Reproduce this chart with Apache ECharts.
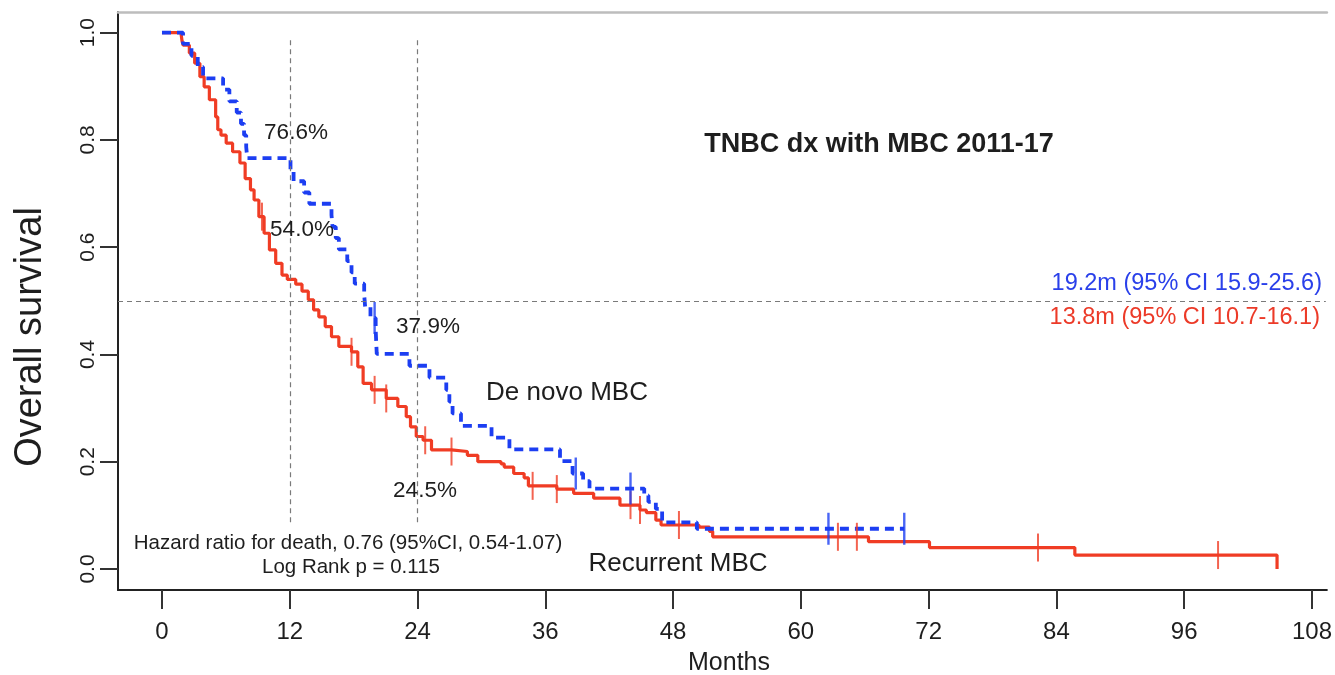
<!DOCTYPE html>
<html>
<head>
<meta charset="utf-8">
<script src="https://cdn.jsdelivr.net/npm/echarts@6/dist/echarts.min.js"></script>
<style>
html,body{margin:0;padding:0;background:#fff;}
#c{width:1335px;height:675px;}
</style>
</head>
<body>
<div id="c"></div>
<script>
// ---- Data ----
const xTicks = [0, 12, 24, 36, 48, 60, 72, 84, 96, 108];
const yTicks = [0, 0.2, 0.4, 0.6, 0.8, 1.0];

// Recurrent MBC (red, solid) Kaplan-Meier steps: survival becomes redSurv[i] at redTimes[i]
const redTimes = [0,1.78,1.88,1.98,2.57,3.07,3.56,3.96,4.45,5.04,5.24,5.54,6.03,6.63,7.32,7.81,8.31,8.65,9.10,9.59,10.09,10.68,11.27,11.77,12.56,13.15,13.74,14.24,14.73,15.33,15.92,16.61,17.80,18.39,18.89,19.68,21.06,22.15,22.94,23.34,23.88,24.52,25.31,27.19,28.68,29.66,31.84,32.14,33.03,34.01,34.41,37.08,38.66,40.54,43.01,44.89,45.49,46.38,46.87,50.43,51.42,51.72,66.35,72.08,85.73,104.72];
const redSurv  = [1.0,1.0,0.985,0.977,0.962,0.943,0.918,0.899,0.875,0.843,0.819,0.809,0.794,0.778,0.757,0.728,0.707,0.688,0.657,0.626,0.595,0.570,0.548,0.540,0.531,0.518,0.502,0.483,0.470,0.452,0.433,0.415,0.405,0.377,0.346,0.334,0.318,0.303,0.284,0.265,0.247,0.240,0.222,0.219,0.212,0.200,0.196,0.190,0.178,0.170,0.155,0.149,0.141,0.132,0.119,0.110,0.105,0.091,0.082,0.078,0.070,0.060,0.051,0.040,0.026,0.0];
const redCensorTimes = [9.39,17.80,19.97,21.06,24.72,27.19,34.81,37.08,44.0,44.89,48.55,63.48,65.26,82.27,99.18];
const redCensorSurv  = [0.657,0.405,0.334,0.318,0.240,0.219,0.155,0.149,0.119,0.110,0.082,0.060,0.060,0.040,0.026];

// De novo MBC (blue, dashed)
const blueTimes = [0,1.98,2.77,3.36,3.86,5.74,6.33,7.02,7.42,7.71,7.91,8.01,12.07,12.36,13.35,13.84,15.92,16.02,16.32,16.61,17.40,17.80,18.10,18.99,19.08,19.58,20.07,20.12,20.17,23.24,25.12,26.70,26.99,27.29,28.08,30.95,32.63,37.38,38.56,39.55,40.15,45.29,45.68,46.38,46.97,50.23,69.71];
const blueSurv  = [1.0,0.979,0.957,0.936,0.915,0.894,0.872,0.851,0.830,0.809,0.787,0.766,0.745,0.723,0.702,0.681,0.660,0.638,0.617,0.596,0.574,0.553,0.532,0.511,0.489,0.468,0.446,0.423,0.401,0.379,0.357,0.334,0.312,0.290,0.267,0.245,0.223,0.201,0.178,0.164,0.150,0.137,0.125,0.112,0.087,0.075,0.075];
const blueCensorTimes = [19.97,38.86,44.0,62.59,69.71];
const blueCensorSurv  = [0.468,0.178,0.150,0.075,0.075];

// Reference lines: landmark months and median level
const landmarkMonths = [12, 24];
const medianLevel = 0.5;

// ---- Build ----
const zip = (a, b) => a.map((v, i) => [v, b[i]]);
const RED = '#f03c24';
const BLUE = '#1c3ef2';
const TXT = '#1e1e1e';
const FONT = "'Liberation Sans', Arial, Helvetica, sans-serif";
const NARROW = "'Liberation Sans Narrow', 'Liberation Sans', Arial, sans-serif";

const X_MIN = -4.13, X_MAX = 109.4;
const Y_MIN = -0.0392, Y_MAX = 1.0386;

const refLines = landmarkMonths.map(m => [{coord: [m, 0.986]}, {coord: [m, 0.08]}]);
refLines.push([{coord: [X_MIN, medianLevel]}, {coord: [109.3, medianLevel]}]);

function txt(text, x, y, size, opts) {
  opts = opts || {};
  return {
    type: 'text', x: x, y: y, rotation: opts.rotation || 0, z: 50,
    style: {
      text: text, fill: opts.fill || TXT,
      font: (opts.weight || 'normal') + ' ' + size + 'px ' + (opts.family || FONT),
      align: opts.align || 'center', verticalAlign: 'middle'
    }
  };
}

const chart = echarts.init(document.getElementById('c'), null, {renderer: 'canvas'});
chart.setOption({
  animation: false,
  backgroundColor: '#ffffff',
  grid: {left: 118, right: 0, top: 12, bottom: 85, containLabel: false},
  xAxis: [{
    type: 'value', min: X_MIN, max: X_MAX,
    axisLine: {show: true, onZero: false, lineStyle: {color: '#222', width: 2}},
    axisTick: {show: true, customValues: xTicks, length: 19, lineStyle: {color: '#333', width: 2}},
    axisLabel: {show: true, customValues: xTicks, margin: 30, fontSize: 24, fontFamily: NARROW, color: TXT},
    splitLine: {show: false}
  }, {
    type: 'value', position: 'top', min: X_MIN, max: X_MAX,
    axisLine: {show: true, onZero: false, lineStyle: {color: '#bdbdbd', width: 2.5}},
    axisTick: {show: false}, axisLabel: {show: false}, splitLine: {show: false}
  }],
  yAxis: {
    type: 'value', min: Y_MIN, max: Y_MAX,
    axisLine: {show: true, onZero: false, lineStyle: {color: '#222', width: 2}},
    axisTick: {show: true, customValues: yTicks, length: 18, lineStyle: {color: '#333', width: 2}},
    axisLabel: {show: true, customValues: yTicks, rotate: 90, margin: 19, fontSize: 21, fontFamily: FONT, color: TXT,
      formatter: v => v.toFixed(1)},
    splitLine: {show: false}
  },
  series: [
    {
      name: 'ref', type: 'line', data: [], silent: true,
      markLine: {
        silent: true, symbol: ['none', 'none'], label: {show: false},
        lineStyle: {color: '#7a7a7a', width: 1.2, type: [5, 4]},
        data: refLines
      }
    },
    {
      name: 'Recurrent MBC', type: 'line', step: 'end', data: zip(redTimes, redSurv),
      showSymbol: false, symbol: 'none', lineStyle: {color: RED, width: 3.2}, z: 3
    },
    {
      name: 'De novo MBC', type: 'line', step: 'end', data: zip(blueTimes, blueSurv),
      showSymbol: false, symbol: 'none', lineStyle: {color: BLUE, width: 3.8, type: [9, 6], cap: 'butt'}, z: 4
    },
    {
      name: 'Recurrent censored', type: 'scatter', data: zip(redCensorTimes, redCensorSurv),
      symbol: 'rect', symbolSize: [2, 28], itemStyle: {color: RED}, z: 5, silent: true
    },
    {
      name: 'De novo censored', type: 'scatter', data: zip(blueCensorTimes, blueCensorSurv),
      symbol: 'rect', symbolSize: [2.4, 32], itemStyle: {color: BLUE}, z: 6, silent: true
    }
  ],
  graphic: [
    txt('Overall survival', 31, 337, 38, {rotation: Math.PI / 2}),
    txt('Months', 729, 663, 25),
    txt('TNBC dx with MBC 2011-17', 879, 145, 27, {weight: 'bold'}),
    txt('76.6%', 296, 133, 22.5),
    txt('54.0%', 302, 230, 22.5),
    txt('37.9%', 428, 327, 22.5),
    txt('24.5%', 425, 491, 22.5),
    txt('De novo MBC', 567, 393, 26),
    txt('Recurrent MBC', 678, 564, 26),
    txt('Hazard ratio for death, 0.76 (95%CI, 0.54-1.07)', 348, 543, 20.5),
    txt('Log Rank p = 0.115', 351, 567, 20.5),
    txt('19.2m (95% CI 15.9-25.6)', 1322, 284, 23.5, {align: 'right', fill: '#2a40ea'}),
    txt('13.8m (95% CI 10.7-16.1)', 1320, 318, 23.5, {align: 'right', fill: '#ec3a28'})
  ]
});
</script>
</body>
</html>
